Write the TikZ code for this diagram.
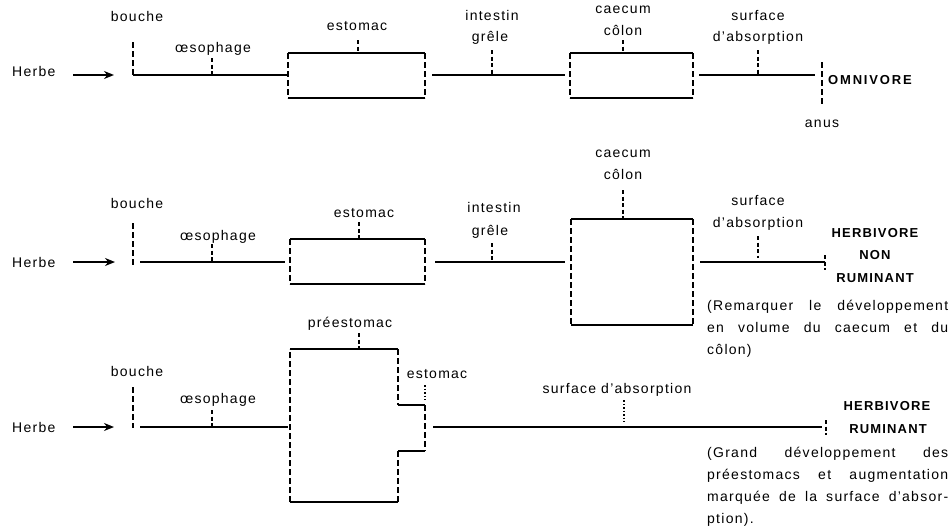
\documentclass[tikz,border=0pt]{standalone}
\usepackage{fontspec}
\setmainfont{Liberation Sans}[LetterSpace=9]
\usetikzlibrary{arrows.meta}
\hyphenpenalty=10000
\begin{document}
\begin{tikzpicture}[x=1pt,y=-1pt,
  lab/.style={font=\fontsize{14}{16}\selectfont, inner sep=0pt, anchor=base},
  blab/.style={font=\fontsize{13}{15}\selectfont\bfseries, inner sep=0pt, anchor=base},
  para/.style={font=\fontsize{14}{22}\selectfont, inner sep=0pt, anchor=base west, text width=241pt, align=justify},
  tube/.style={line width=2pt},
  wall/.style={line width=1.6pt, dash pattern=on 6pt off 3pt},
  tick/.style={line width=1.4pt, dash pattern=on 4pt off 2.5pt},
  dotty/.style={line width=1.3pt, dash pattern=on 1.5pt off 2pt},
  feed/.style={line width=1.8pt, -{Stealth[length=10pt,width=8pt]}},
]
\useasboundingbox (0,0) rectangle (949,530);

% ---------------- Row 1 : OMNIVORE ----------------
\node[lab, anchor=base west] (herbe1) at (12,76) {Herbe};
\coordinate (a1s) at (73,75); \coordinate (a1e) at (114,75);
\draw[feed] (a1s) -- (a1e);
\node[lab] (bouche1) at (137,21) {bouche};
\coordinate (b1t) at (133,42); \coordinate (b1b) at (133,75);
\draw[wall] (b1t) -- (b1b);
\node[lab] (oes1) at (213,52) {œsophage};
\coordinate (o1t) at (212,58); \coordinate (o1b) at (212,75);
\draw[tick] (o1t) -- (o1b);
\coordinate (t1e) at (287,75);
\draw[tube] (b1b) -- (t1e);
% estomac box
\coordinate (e1a) at (288,53); \coordinate (e1b) at (425,53);
\coordinate (e1c) at (425,98); \coordinate (e1d) at (288,98);
\draw[tube] (e1a) -- (e1b); \draw[tube] (e1d) -- (e1c);
\draw[wall] (e1a) -- (e1d); \draw[wall] (e1b) -- (e1c);
\node[lab] (est1) at (357,30) {estomac};
\coordinate (s1t) at (358,40);
\draw[tick] (s1t) -- (s1t |- e1a);
\coordinate (g1s) at (432,75); \coordinate (g1e) at (565,75);
\draw[tube] (g1s) -- (g1e);
\node[lab] (int1a) at (492,20) {intestin};
\node[lab] (int1b) at (490,41) {grêle};
\coordinate (i1t) at (492,50); \coordinate (i1b) at (492,75);
\draw[tick] (i1t) -- (i1b);
% caecum box
\coordinate (c1a) at (570,53); \coordinate (c1b) at (693,53);
\coordinate (c1c) at (693,98); \coordinate (c1d) at (570,98);
\draw[tube] (c1a) -- (c1b); \draw[tube] (c1d) -- (c1c);
\draw[wall] (c1a) -- (c1d); \draw[wall] (c1b) -- (c1c);
\node[lab] (cae1) at (623,13) {caecum};
\node[lab] (col1) at (623,35) {côlon};
\coordinate (k1t) at (623,40);
\draw[tick] (k1t) -- (k1t |- c1a);
\coordinate (r1s) at (699,75); \coordinate (r1e) at (815,75);
\draw[tube] (r1s) -- (r1e);
\node[lab] (sur1a) at (758,20) {surface};
\node[lab] (sur1b) at (758,41) {d'absorption};
\coordinate (u1t) at (758,50); \coordinate (u1b) at (758,75);
\draw[tick] (u1t) -- (u1b);
\coordinate (n1t) at (822,62); \coordinate (n1b) at (822,105);
\draw[wall] (n1t) -- (n1b);
\node[blab, anchor=base west, font=\fontsize{13}{15}\selectfont\bfseries\addfontfeatures{LetterSpace=14}] (omni) at (828,84) {OMNIVORE};
\node[lab] (anus) at (822,127) {anus};

% ---------------- Row 2 : HERBIVORE NON RUMINANT ----------------
\node[lab, anchor=base west] (herbe2) at (12,267) {Herbe};
\coordinate (a2s) at (73,262); \coordinate (a2e) at (115,262);
\draw[feed] (a2s) -- (a2e);
\node[lab] (bouche2) at (137,208) {bouche};
\coordinate (b2t) at (133,223); \coordinate (b2b) at (133,265);
\draw[wall] (b2t) -- (b2b);
\node[lab] (oes2) at (218,240) {œsophage};
\coordinate (o2t) at (212,244); \coordinate (o2b) at (212,262);
\draw[tick] (o2t) -- (o2b);
\coordinate (t2s) at (140,262); \coordinate (t2e) at (285,262);
\draw[tube] (t2s) -- (t2e);
\coordinate (e2a) at (290,239); \coordinate (e2b) at (425,239);
\coordinate (e2c) at (425,284); \coordinate (e2d) at (290,284);
\draw[tube] (e2a) -- (e2b); \draw[tube] (e2d) -- (e2c);
\draw[wall] (e2a) -- (e2d); \draw[wall] (e2b) -- (e2c);
\node[lab] (est2) at (364,217) {estomac};
\coordinate (s2t) at (359,222);
\draw[tick] (s2t) -- (s2t |- e2a);
\coordinate (g2s) at (435,262); \coordinate (g2e) at (565,262);
\draw[tube] (g2s) -- (g2e);
\node[lab] (int2a) at (494,212) {intestin};
\node[lab] (int2b) at (490,235) {grêle};
\coordinate (i2t) at (492,243); \coordinate (i2b) at (492,262);
\draw[tick] (i2t) -- (i2b);
\coordinate (c2a) at (571,219); \coordinate (c2b) at (693,219);
\coordinate (c2c) at (693,325); \coordinate (c2d) at (571,325);
\draw[tube] (c2a) -- (c2b); \draw[tube] (c2d) -- (c2c);
\draw[wall] (c2a) -- (c2d); \draw[wall] (c2b) -- (c2c);
\node[lab] (cae2) at (623,157) {caecum};
\node[lab] (col2) at (623,179) {côlon};
\coordinate (k2t) at (623,190);
\draw[tick] (k2t) -- (k2t |- c2a);
\coordinate (r2s) at (700,262); \coordinate (r2e) at (825,262);
\draw[tube] (r2s) -- (r2e);
\coordinate (n2t) at (825,255); \coordinate (n2b) at (825,270);
\draw[tick] (n2t) -- (n2b);
\node[lab] (sur2a) at (758,205) {surface};
\node[lab] (sur2b) at (758,227) {d'absorption};
\coordinate (u2t) at (758,236); \coordinate (u2b) at (758,258);
\draw[tick] (u2t) -- (u2b);
\node[blab] (hnr1) at (875,237) {HERBIVORE};
\node[blab] (hnr2) at (875,259) {NON};
\node[blab] (hnr3) at (875,282) {RUMINANT};
\node[para] (note1) at (707,310) {(Remarquer le développement\linebreak en volume du caecum et du\linebreak côlon)};

% ---------------- Row 3 : HERBIVORE RUMINANT ----------------
\node[lab, anchor=base west] (herbe3) at (12,432) {Herbe};
\coordinate (a3s) at (73,427); \coordinate (a3e) at (114,427);
\draw[feed] (a3s) -- (a3e);
\node[lab] (bouche3) at (137,376) {bouche};
\coordinate (b3t) at (133,387); \coordinate (b3b) at (133,428);
\draw[wall] (b3t) -- (b3b);
\node[lab] (oes3) at (218,403) {œsophage};
\coordinate (o3t) at (212,410); \coordinate (o3b) at (212,427);
\draw[tick] (o3t) -- (o3b);
\coordinate (t3s) at (140,427); \coordinate (t3e) at (288,427);
\draw[tube] (t3s) -- (t3e);
% préestomac + estomac
\coordinate (p3a) at (290,349); \coordinate (p3b) at (398,349);
\coordinate (p3c) at (398,405); \coordinate (p3d) at (425,405);
\coordinate (p3e) at (425,451); \coordinate (p3f) at (398,451);
\coordinate (p3g) at (398,502); \coordinate (p3h) at (290,502);
\draw[tube] (p3a) -- (p3b);
\draw[wall] (p3b) -- (p3c);
\draw[tube] (p3c) -- (p3d);
\draw[wall] (p3d) -- (p3e);
\draw[tube] (p3e) -- (p3f);
\draw[wall] (p3f) -- (p3g);
\draw[tube] (p3g) -- (p3h);
\draw[wall] (p3h) -- (p3a);
\node[lab] (pre3) at (350,327) {préestomac};
\coordinate (q3t) at (359,333);
\draw[tick] (q3t) -- (q3t |- p3a);
\node[lab] (est3) at (437,378) {estomac};
\coordinate (s3t) at (425,385); \coordinate (s3b) at (425,400);
\draw[dotty] (s3t) -- (s3b);
\coordinate (g3s) at (433,427); \coordinate (g3e) at (822,427);
\draw[tube] (g3s) -- (g3e);
\coordinate (n3t) at (826,420); \coordinate (n3b) at (826,435);
\draw[tick] (n3t) -- (n3b);
\node[lab] (sur3) at (617,393) {surface d'absorption};
\coordinate (u3t) at (624,400); \coordinate (u3b) at (624,422);
\draw[dotty] (u3t) -- (u3b);
\node[blab] (hr1) at (887,410) {HERBIVORE};
\node[blab] (hr2) at (888,433) {RUMINANT};
\node[para] (note2) at (707,457) {(Grand développement des\linebreak préestomacs et augmentation\linebreak marquée de la surface d'absor-\linebreak ption).};
\end{tikzpicture}
\end{document}
